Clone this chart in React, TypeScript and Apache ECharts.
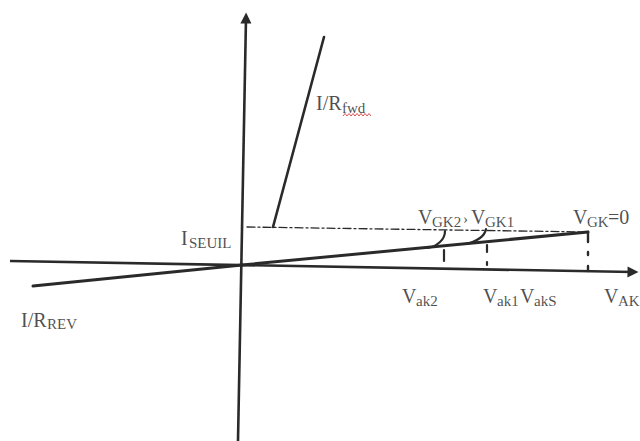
import React, { useEffect, useRef } from "react";
import * as echarts from "echarts";

// Coordinates: X along V_AK, Y along I (arbitrary units), origin where the axes cross.
const hAxisLine = [[-232, 4], [391, -7]];
const vAxisLine = [[-4, -176], [4, 247]];
const reverseBranch = [[-209, -21], [0, 0]];
const forwardBlocking = [[0, 0], [346, 33]];
const onStateBranch = [[31, 38], [82, 228]];
const seuilLevel = [[5, 38], [346, 33]];
const curveGK2 = [[184, 17], [198, 23], [203, 34]];
const curveGK1 = [[223, 21], [238, 27], [244, 36]];
const tickVak2 = [[202, 15], [202, 4]];
const tickVak1 = [[245, 20], [245, -1]];
const tickVakS = [[346, 33], [346, -6]];

// Label texts (main letter + subscript pieces)
const labelTexts = [
  "I/R", "fwd",
  "I", "SEUIL",
  "V", "GK2", "›", "V", "GK1",
  "V", "GK", "=0",
  "V", "ak2",
  "V", "ak1", "V", "akS",
  "V", "AK",
  "I/R", "REV",
];
// Layout of labels: [left X, baseline Y, font size]
const labelLayout: number[][] = [
  [74, 155, 20], [100, 152, 15],
  [-61, 20, 20], [-53, 17, 15],
  [176, 41, 20], [190, 38, 15], [221, 41, 15], [229, 41, 20], [243, 38, 15],
  [331, 41, 20], [345, 38, 15], [366, 41, 20],
  [160, -38, 20], [174, -41, 15],
  [241, -38, 20], [255, -41, 15], [278, -38, 20], [292, -41, 15],
  [362, -38, 20], [376, -41, 15],
  [-221, -62, 20], [-195, -64, 15],
];

const INK = "#2a2a2a";
const TEXT = "#1e1e1e";
const FONT = "'Liberation Serif', 'Times New Roman', serif";

export default function App() {
  const ref = useRef<HTMLDivElement>(null);
  useEffect(() => {
    if (!ref.current) return;
    const chart = echarts.init(ref.current, null, { renderer: "svg" });

    const lineSeries = (data: number[][], width: number, type: any = "solid", smooth: any = false) => ({
      type: "line",
      data,
      showSymbol: false,
      symbol: "none",
      smooth,
      silent: true,
      lineStyle: { color: INK, width, type, cap: "round" },
      z: 3,
    });

    const labelData = labelTexts.map((t, i) => {
      const [x, y, fs] = labelLayout[i];
      return {
        value: [x, y],
        label: {
          show: true,
          formatter: t,
          position: [0, 0],
          align: "left",
          verticalAlign: "middle",
          offset: [0, -0.35 * fs],
          fontSize: fs,
          fontFamily: FONT,
          color: TEXT,
        },
      };
    });

    // spell-check squiggle under "fwd"
    const squiggle: number[][] = [];
    for (let i = 0; i <= 14; i++) squiggle.push([343 + i * 2, i % 2 === 0 ? 116 : 113.5]);

    chart.setOption({
      animation: false,
      backgroundColor: "#ffffff",
      grid: { left: 0, right: 0, top: 0, bottom: 0 },
      xAxis: { type: "value", min: -242, max: 398, show: false },
      yAxis: { type: "value", min: -176, max: 265, show: false },
      series: [
        {
          type: "lines",
          coordinateSystem: "cartesian2d",
          silent: true,
          symbol: ["none", "triangle"],
          symbolSize: 11,
          lineStyle: { color: INK, width: 2.6, opacity: 1, curveness: 0 },
          data: [{ coords: hAxisLine }, { coords: vAxisLine }],
          z: 4,
        },
        lineSeries(reverseBranch, 3),
        lineSeries(forwardBlocking, 3),
        lineSeries(onStateBranch, 2.6),
        lineSeries(seuilLevel, 1.3, [8, 3, 2, 3]),
        lineSeries(curveGK2, 2.2, "solid", 0.6),
        lineSeries(curveGK1, 2.2, "solid", 0.6),
        lineSeries(tickVak2, 2.2),
        lineSeries(tickVak1, 2.2, [7, 10, 3, 20]),
        lineSeries(tickVakS, 2.4, [10, 10, 3, 11, 5, 10]),
        {
          type: "scatter",
          symbolSize: 0,
          silent: true,
          data: labelData,
          z: 5,
        },
      ],
      graphic: [
        {
          type: "polyline",
          shape: { points: squiggle },
          style: { stroke: "#d9534f", lineWidth: 1, fill: "none" },
          silent: true,
        },
      ],
    });
    return () => chart.dispose();
  }, []);
  return (
    <div
      ref={ref}
      style={{ position: "fixed", left: 0, top: 0, width: 640, height: 441, background: "#fff" }}
    />
  );
}
